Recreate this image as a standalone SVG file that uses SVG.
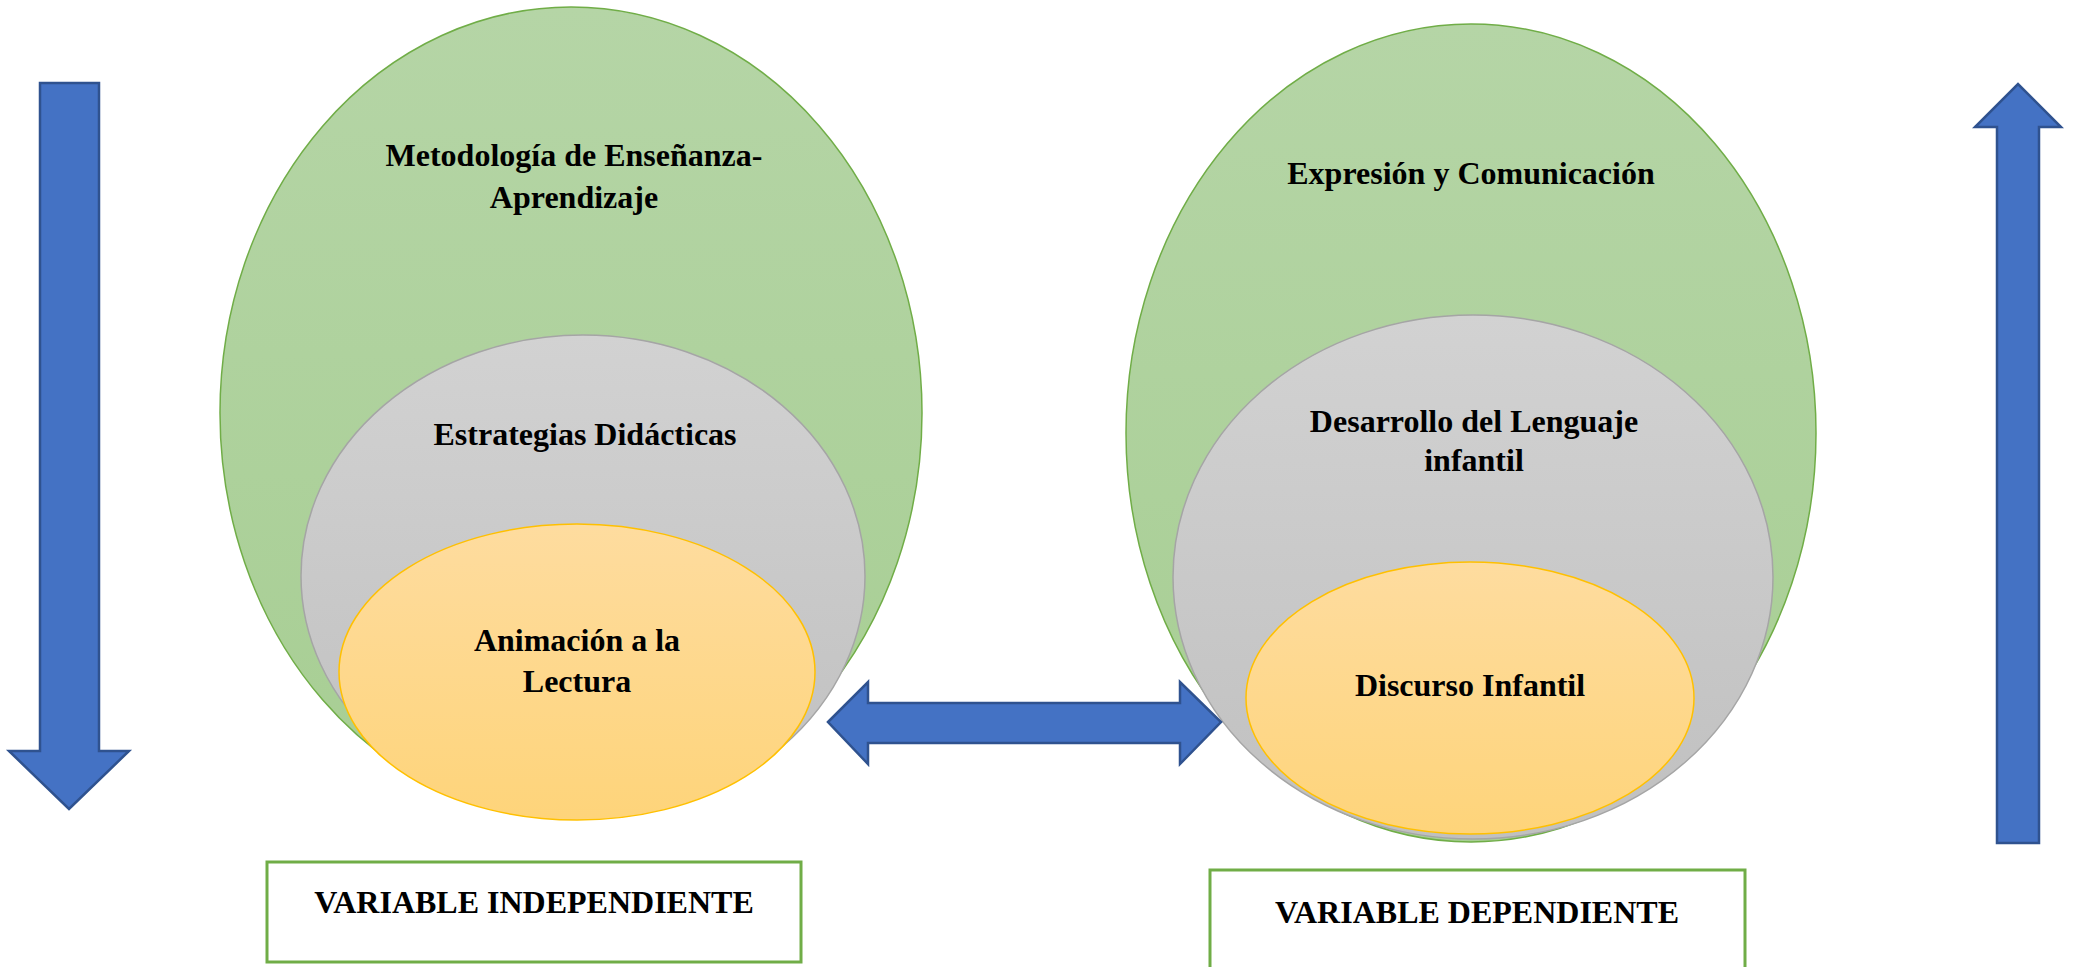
<svg xmlns="http://www.w3.org/2000/svg" width="2076" height="967" viewBox="0 0 2076 967">
<defs>
<linearGradient id="gG" x1="0" y1="0" x2="0" y2="1"><stop offset="0" stop-color="#b5d5a6"/><stop offset="1" stop-color="#a7ce93"/></linearGradient>
<linearGradient id="gY" x1="0" y1="0" x2="0" y2="1"><stop offset="0" stop-color="#d2d2d2"/><stop offset="1" stop-color="#c0c0c0"/></linearGradient>
<linearGradient id="gO" x1="0" y1="0" x2="0" y2="1"><stop offset="0" stop-color="#fedc9f"/><stop offset="1" stop-color="#fed47a"/></linearGradient>
</defs>
<style>
.g{fill:url(#gG);stroke:#70ad47;stroke-width:1.5}
.y{fill:url(#gY);stroke:#a5a5a5;stroke-width:1.5}
.o{fill:url(#gO);stroke:#ffc000;stroke-width:1.5}
.arr{fill:#4472c4;stroke:#2f528f;stroke-width:2.5;stroke-linejoin:miter}
.box{fill:#ffffff;stroke:#70ad47;stroke-width:3}
text{font-family:"Liberation Serif","Times New Roman",serif;font-weight:bold;font-size:32px;fill:#000;text-anchor:middle}
</style>
<g id="left-green"><ellipse class="g" cx="571" cy="413" rx="351" ry="406"/>
<text x="574" y="166">Metodología de Enseñanza-</text><text x="574" y="208">Aprendizaje</text></g>
<g id="left-gray"><ellipse class="y" cx="583" cy="576" rx="282" ry="241"/>
<text x="585" y="445">Estrategias Didácticas</text></g>
<g id="left-orange"><ellipse class="o" cx="577" cy="672" rx="238" ry="148"/>
<text x="577" y="651">Animación a la</text><text x="577" y="692">Lectura</text></g>
<g id="right-green"><ellipse class="g" cx="1471" cy="433" rx="345" ry="409"/>
<text x="1471" y="184">Expresión y Comunicación</text></g>
<g id="right-gray"><ellipse class="y" cx="1473" cy="577" rx="300" ry="262"/>
<text x="1474" y="432">Desarrollo del Lenguaje</text><text x="1474" y="471">infantil</text></g>
<g id="right-orange"><ellipse class="o" cx="1470" cy="698" rx="224" ry="136"/>
<text x="1470" y="696">Discurso Infantil</text></g>
<g id="box-independiente"><rect class="box" x="267" y="862" width="534" height="100"/>
<text x="534" y="913">VARIABLE INDEPENDIENTE</text></g>
<g id="box-dependiente"><rect class="box" x="1210" y="870" width="535" height="110"/>
<text x="1477" y="923">VARIABLE DEPENDIENTE</text></g>
<g id="connectors">
<polygon class="arr" points="40,83 99,83 99,751 129,751 69,809 9,751 40,751"/>
<polygon class="arr" points="1997,843 2039,843 2039,127 2061,127 2018,84 1975,127 1997,127"/>
<polygon class="arr" points="828,722 868,682 868,703 1180,703 1180,682 1221,722 1180,764 1180,743 868,743 868,764"/>
</g>
</svg>
